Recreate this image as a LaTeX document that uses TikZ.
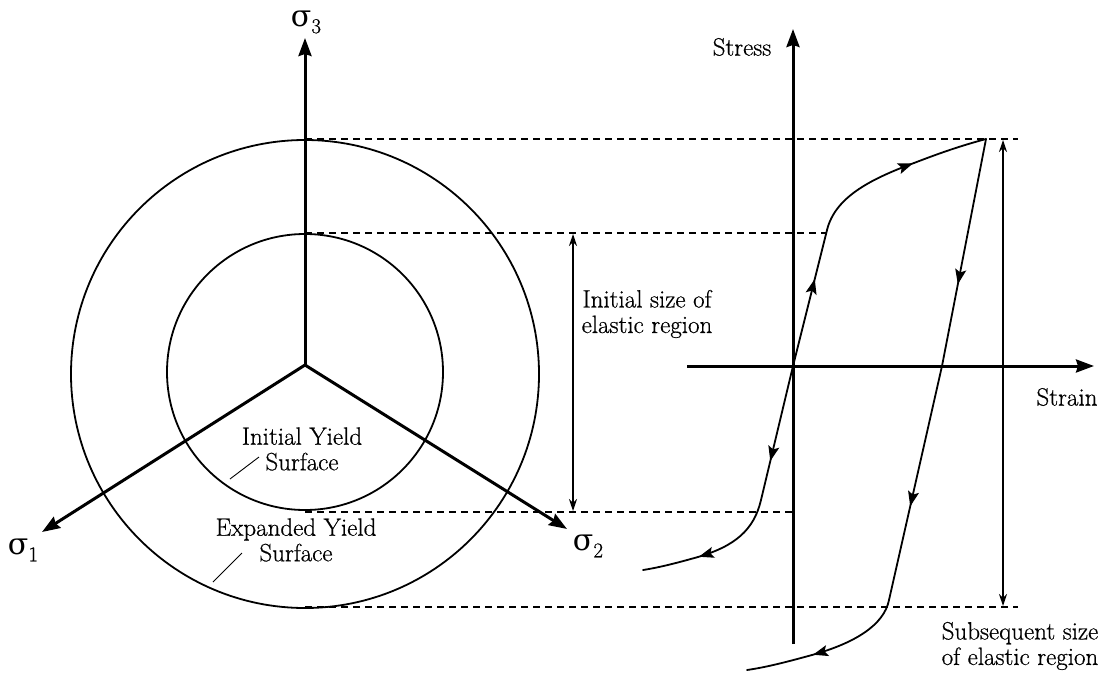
\documentclass[tikz,border=0pt]{standalone}
\usepackage{fontspec}
\newfontfamily\grk{DejaVu Serif}
\newfontfamily\lblfont{Latin Modern Roman}[FakeBold=0.6]
\usetikzlibrary{arrows.meta,decorations.markings}
\begin{document}
\begin{tikzpicture}[x=1pt,y=-1pt,
  axis/.style={line width=3pt,-{Stealth[length=18pt,width=13pt,inset=2pt]}},
  circ/.style={line width=1.8pt},
  dashline/.style={line width=1.4pt,dash pattern=on 7pt off 5pt},
  curve/.style={line width=1.8pt,line cap=round},
  sizearrow/.style={line width=1.3pt,{Stealth[length=12pt,width=8pt]}-{Stealth[length=12pt,width=8pt]}},
  leader/.style={line width=0.9pt},
  lbl/.style={font=\lblfont\fontsize{25}{25.5}\selectfont,align=center,inner sep=0pt},
  sig/.style={font=\grk\fontsize{30}{30}\selectfont,inner sep=0pt},
  midarrow/.style={postaction={decorate},decoration={markings,mark=at position #1 with {\arrow{Stealth[length=15pt,width=11pt,inset=3pt]}}}},
]
\useasboundingbox (0,0) rectangle (1116,672);

% ---------- left figure ----------
\coordinate (C) at (305,365);
\coordinate (s3tip) at (305,38);
\coordinate (s1tip) at (42,532);
\coordinate (s2tip) at (567,529);
\coordinate (oc) at (305,374);
\coordinate (ic) at (305,372);

\draw[circ] (oc) circle[radius=234pt];
\draw[circ] (ic) circle[radius=138pt];

\draw[axis] (C) -- (s3tip);
\draw[axis] (C) -- (s1tip);
\draw[axis] (C) -- (s2tip);

\node[sig] (l3) at (306,22) {σ\raisebox{-7pt}{\lblfont\fontsize{21}{21}\selectfont 3}};
\node[sig] (l1) at (23,550) {σ\raisebox{-7pt}{\lblfont\fontsize{21}{21}\selectfont 1}};
\node[sig] (l2) at (588,546) {σ\raisebox{-7pt}{\lblfont\fontsize{21}{21}\selectfont 2}};

\node[lbl] (iys) at (302,449) {Initial Yield\\Surface};
\node[lbl] (eys) at (296,540) {Expanded Yield\\Surface};
\coordinate (iyA) at (259,457); \coordinate (iyB) at (230,479);
\coordinate (eyA) at (242,553); \coordinate (eyB) at (213,582);
\draw[leader] (iyA) -- (iyB);
\draw[leader] (eyA) -- (eyB);

% ---------- dashed guide lines ----------
\coordinate (d1a) at (305,139); \coordinate (d1b) at (1018,139);
\coordinate (d2a) at (305,233); \coordinate (d2b) at (827,233);
\coordinate (d3a) at (305,512); \coordinate (d3b) at (793,512);
\coordinate (d4a) at (305,607); \coordinate (d4b) at (1018,607);
\draw[dashline] (d1a) -- (d1b);
\draw[dashline] (d2a) -- (d2b);
\draw[dashline] (d3a) -- (d3b);
\draw[dashline] (d4a) -- (d4b);

% ---------- size arrows ----------
\coordinate (ia) at (573,234); \coordinate (ib) at (573,511);
\draw[sizearrow] (ia) -- (ib);
\node[lbl] (isz) at (647,314) {Initial size of\\elastic region};
\coordinate (sa) at (1003,140); \coordinate (sb) at (1003,606);
\draw[sizearrow] (sa) -- (sb);
\node[lbl] (ssz) at (1020,646) {Subsequent size\\of elastic region};

% ---------- stress-strain axes ----------
\coordinate (O) at (793,366);
\coordinate (ybot) at (793,644); \coordinate (ytop) at (793,29);
\coordinate (xl) at (687,366); \coordinate (xr) at (1094,366);
\draw[axis] (ybot) -- (ytop);
\draw[axis] (xl) -- (xr);
\node[lbl] (stress) at (742,47) {Stress};
\node[lbl] (strain) at (1067,397) {Strain};

% ---------- hysteresis curve ----------
\coordinate (K1) at (827,230);
\coordinate (T1) at (914,163);
\coordinate (P) at (986,139);
\coordinate (U1) at (942,366);
\coordinate (U2) at (889,600);
\coordinate (T2) at (812,655);
\coordinate (E1) at (747,670);
\coordinate (L1) at (761,500);
\coordinate (T3) at (698,557);
\coordinate (E2) at (643,570);

\draw[curve,midarrow=0.64] (O) -- (K1);
\draw[curve,midarrow=0.99] (K1) .. controls (835,198) and (868,180) .. (T1);
\draw[curve] (T1) .. controls (940,153) and (960,146) .. (P);
\draw[curve,midarrow=0.64] (P) -- (U1);
\draw[curve,midarrow=0.6] (U1) -- (U2);
\draw[curve,midarrow=0.99] (U2) .. controls (884,625) and (855,643) .. (T2);
\draw[curve] (T2) .. controls (790,661) and (768,667) .. (E1);
\draw[curve,midarrow=0.71] (O) -- (L1);
\draw[curve,midarrow=0.99] (L1) .. controls (754,530) and (735,546) .. (T3);
\draw[curve] (T3) .. controls (680,562) and (662,567) .. (E2);
\end{tikzpicture}
\end{document}
